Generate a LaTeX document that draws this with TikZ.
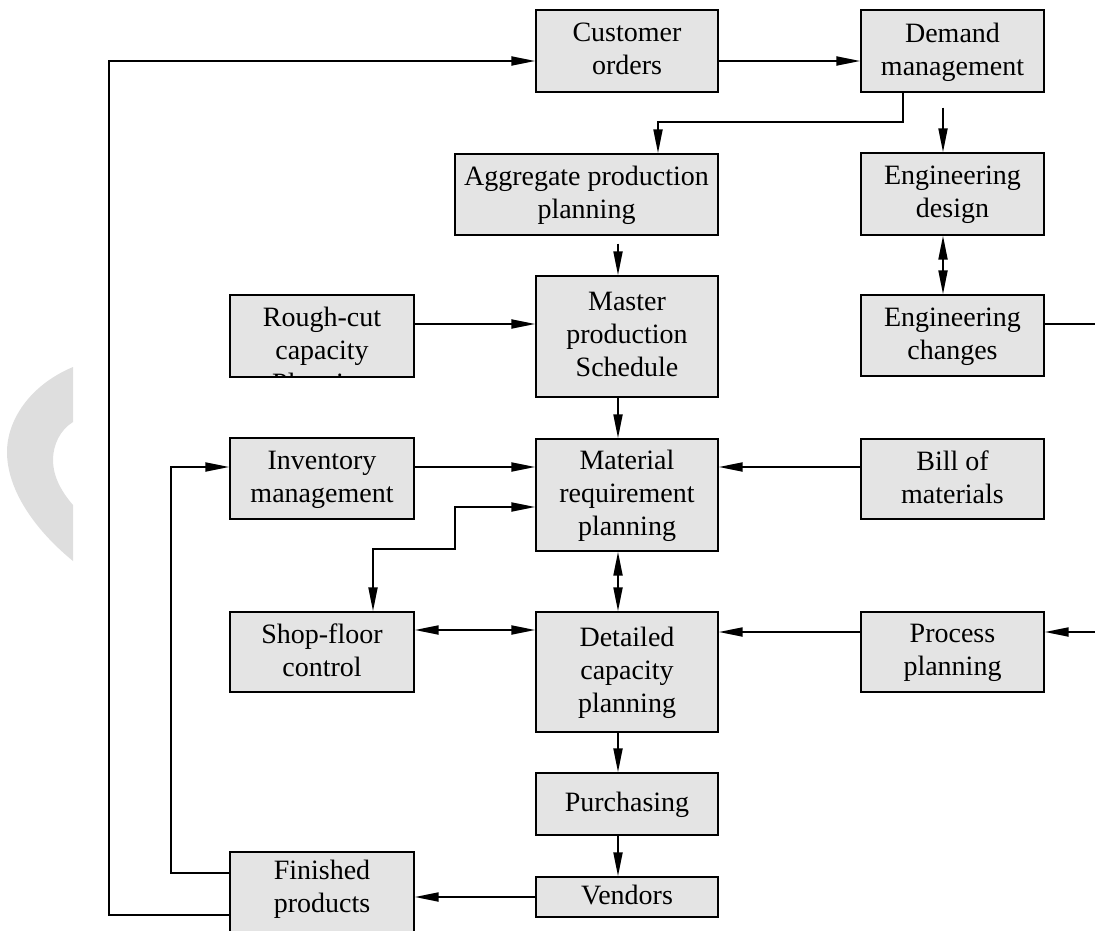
\documentclass[tikz,border=0pt]{standalone}
\usepackage{fontspec}
\setmainfont{Liberation Serif}
\usetikzlibrary{arrows.meta}
\definecolor{boxgray}{HTML}{E4E4E4}
\definecolor{wmgray}{HTML}{DEDEDE}
\tikzset{
  box/.style={draw=black, line width=1.4pt, fill=boxgray, align=center, inner sep=0pt,
    font=\fontsize{28}{33}\selectfont, text depth=4pt},
  txt/.style={align=center, inner sep=0pt, font=\fontsize{28}{33}\selectfont},
  conn/.style={line width=2pt, -{Triangle[length=24pt,width=9pt]}},
  conn2/.style={line width=2pt, {Triangle[length=24pt,width=9pt]}-{Triangle[length=24pt,width=9pt]}},
  plain/.style={line width=2pt},
}
\begin{document}
\begin{tikzpicture}[x=1pt,y=-1pt]
\useasboundingbox (0,0) rectangle (1095,931);
\clip (0,0) rectangle (1095,931);
% watermark shape
\fill[wmgray] (73,367) .. controls (30,385) and (7,420) .. (7,452)
  .. controls (7,490) and (35,530) .. (73,561) -- (73,505)
  .. controls (60,490) and (53,475) .. (53,460)
  .. controls (53,445) and (60,430) .. (73,422) -- cycle;
% boxes
\node[box, minimum width=182, minimum height=82] (cust) at (627,51) {Customer\\orders};
\node[box, minimum width=183, minimum height=82] (dem) at (952.5,51) {Demand\\management};
\node[box, minimum width=263, minimum height=81] (agg) at (586.5,194.5) {Aggregate production\\planning};
\node[box, minimum width=183, minimum height=82] (engd) at (952.5,194) {Engineering\\design};
\node[box, minimum width=184, minimum height=82] (rough) at (322,336) {};
\begin{scope}
  \clip ([shift={(1,-1)}]rough.south west) rectangle ([shift={(-1,1)}]rough.north east);
  \node[txt] (roughtxt) at (322,353) {Rough-cut\\capacity\\Planning};
\end{scope}
\node[box, minimum width=182, minimum height=121] (mps) at (627,336.5) {Master\\production\\Schedule};
\node[box, minimum width=183, minimum height=81] (engc) at (952.5,335.5) {Engineering\\changes};
\node[box, minimum width=184, minimum height=81] (inv) at (322,478.5) {Inventory\\management};
\node[box, minimum width=182, minimum height=112] (mrp) at (627,495) {Material\\requirement\\planning};
\node[box, minimum width=183, minimum height=80] (bom) at (952.5,479) {Bill of\\materials};
\node[box, minimum width=184, minimum height=80] (shop) at (322,652) {Shop-floor\\control};
\node[box, minimum width=182, minimum height=120] (dcp) at (627,672) {Detailed\\capacity\\planning};
\node[box, minimum width=183, minimum height=80] (proc) at (952.5,652) {Process\\planning};
\node[box, minimum width=182, minimum height=62] (purch) at (627,804) {Purchasing};
\node[box, minimum width=182, minimum height=40] (vend) at (627,897) {Vendors};
\node[box, minimum width=184, minimum height=98] (fin) at (322,901) {};
\node[txt] (fintxt) at (322,889) {Finished\\products};
% connectors
\draw[conn] (fin.west |- 0,915) -- (109,915) -- (109,61) -- (cust.west |- 0,61);
\draw[conn] (cust.east |- 0,61) -- (dem.west |- 0,61);
\draw[conn] (dem.south -| 903,0) -- (903,122) -- (658,122) -- (agg.north -| 658,0);
\draw[conn, shorten <=15pt] (dem.south -| 943,0) -- (engd.north -| 943,0);
\draw[conn, shorten <=8pt] (agg.south -| 618,0) -- (mps.north -| 618,0);
\draw[conn2] (engd.south -| 943,0) -- (engc.north -| 943,0);
\draw[plain] (engc.east |- 0,324) -- (1110,324) -- (1110,632);
\draw[conn] (1110,632) -- (proc.east |- 0,632);
\draw[conn] (rough.east |- 0,324) -- (mps.west |- 0,324);
\draw[conn] (mps.south -| 618,0) -- (mrp.north -| 618,0);
\draw[conn] (inv.east |- 0,467) -- (mrp.west |- 0,467);
\draw[conn] (bom.west |- 0,467) -- (mrp.east |- 0,467);
\draw[conn2] (mrp.west |- 0,507) -- (455,507) -- (455,549) -- (373,549) -- (shop.north -| 373,0);
\draw[conn2] (mrp.south -| 618,0) -- (dcp.north -| 618,0);
\draw[conn2] (shop.east |- 0,630) -- (dcp.west |- 0,630);
\draw[conn] (proc.west |- 0,632) -- (dcp.east |- 0,632);
\draw[conn] (dcp.south -| 618,0) -- (purch.north -| 618,0);
\draw[conn] (purch.south -| 618,0) -- (vend.north -| 618,0);
\draw[conn] (vend.west |- 0,897) -- (fin.east |- 0,897);
\draw[conn] (fin.west |- 0,873) -- (171,873) -- (171,467) -- (inv.west |- 0,467);
\end{tikzpicture}
\end{document}
